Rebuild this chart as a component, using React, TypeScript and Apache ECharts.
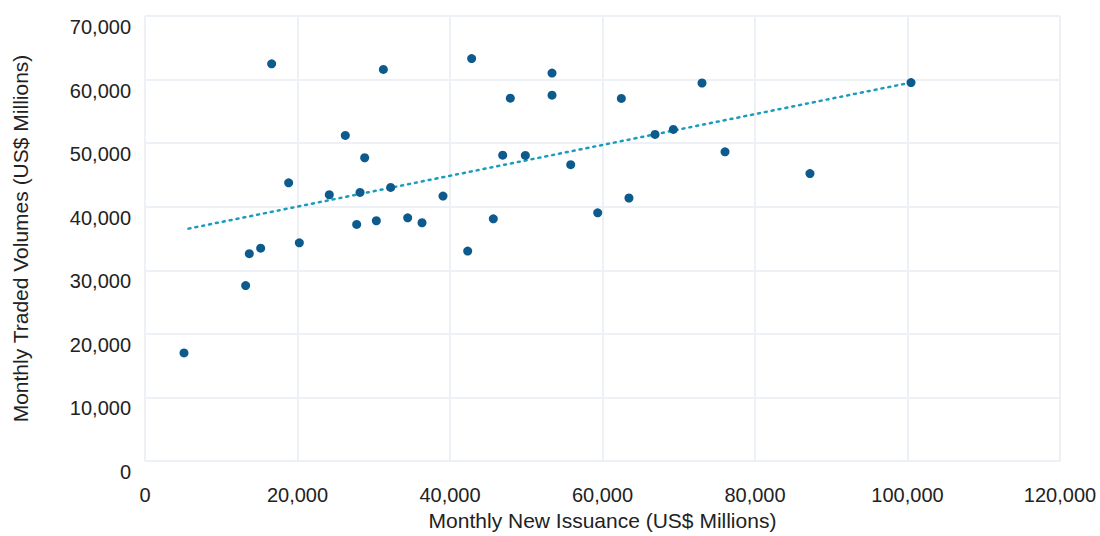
import React, { useEffect, useRef } from "react";
import * as echarts from "echarts";

const issuance = [
  5115, 13200, 13680, 15170, 16610, 18840, 20240, 26270, 24170, 27760, 28200, 28810,
  30340, 31260, 32220, 34450, 36330, 39080, 42320, 42840, 45680, 46910, 47910, 49880,
  53380, 53380, 55830, 59370, 62470, 63470, 66890, 69290, 73050, 76070, 87210, 100460,
];
const traded = [
  17000, 27600, 32610, 33480, 62470, 43750, 34320, 51210, 41880, 37220, 42250, 47700,
  37790, 61590, 43030, 38260, 37480, 41680, 33020, 63300, 38100, 48100, 57080, 48060,
  61020, 57540, 46610, 39040, 57030, 41370, 51370, 52150, 59460, 48630, 45210, 59520,
];
const trendX = [5700, 100000];
const trendY = [36550, 59420];

const xTicks = { min: 0, max: 120000, interval: 20000 };
const yTicks = { min: 0, max: 70000, interval: 10000 };

const xTitle = "Monthly New Issuance (US$ Millions)";
const yTitle = "Monthly Traded Volumes (US$ Millions)";

const fmt = (v: number) => v.toLocaleString("en-US");

export default function App() {
  const ref = useRef<HTMLDivElement>(null);
  useEffect(() => {
    if (!ref.current) return;
    const chart = echarts.init(ref.current, undefined, { renderer: "svg" });
    const font = "'Liberation Sans', Arial, Helvetica, sans-serif";
    const gridLine = { show: true, lineStyle: { color: "#edf0f4", width: 2 } };
    chart.setOption({
      animation: false,
      backgroundColor: "#ffffff",
      textStyle: { fontFamily: font },
      grid: { left: 145, top: 16, width: 915, height: 450, containLabel: false },
      xAxis: {
        type: "value",
        ...xTicks,
        name: xTitle,
        nameLocation: "middle",
        nameGap: 49,
        nameTextStyle: { fontSize: 21, color: "#222", fontFamily: font },
        axisLine: { show: false },
        axisTick: { show: false },
        splitLine: gridLine,
        axisLabel: {
          fontSize: 20,
          color: "#222",
          margin: 24,
          fontFamily: font,
          formatter: fmt,
        },
      },
      yAxis: {
        type: "value",
        ...yTicks,
        name: yTitle,
        nameLocation: "middle",
        nameGap: 114,
        nameRotate: 90,
        nameTextStyle: { fontSize: 21, color: "#222", fontFamily: font, padding: [0, 0, 0, 0] },
        axisLine: { show: false },
        axisTick: { show: false },
        splitLine: gridLine,
        axisLabel: {
          fontSize: 20,
          color: "#222",
          margin: 14,
          verticalAlign: "top",
          padding: [1, 0, 0, 0],
          fontFamily: font,
          formatter: fmt,
        },
      },
      series: [
        {
          type: "line",
          data: trendX.map((x, i) => [x, trendY[i]]),
          symbol: "none",
          lineStyle: { color: "#1b9cbd", width: 2.5, type: [2, 5], cap: "round" },
          z: 1,
          silent: true,
        },
        {
          type: "scatter",
          data: issuance.map((x, i) => [x, traded[i]]),
          symbolSize: 9,
          itemStyle: { color: "#0d5b8d", opacity: 1 },
          z: 2,
        },
      ],
    });
    return () => chart.dispose();
  }, []);
  return (
    <div
      ref={ref}
      style={{ position: "fixed", left: 0, top: 0, width: 1100, height: 536 }}
    />
  );
}
